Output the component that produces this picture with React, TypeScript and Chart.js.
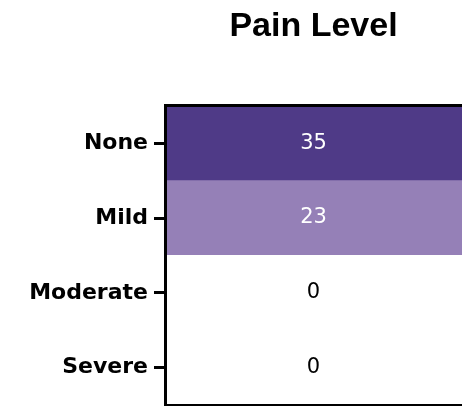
import React, { useEffect, useRef } from "react";
import { Chart, registerables } from "chart.js";

Chart.register(...registerables);

const title = "Pain Level";
const categories = ["None", "Mild", "Moderate", "Severe"];
const values = [35, 23, 0, 0];
const cellColors = ["#4f3a87", "#9580b7", "#ffffff", "#ffffff"];
const textColors = ["#ffffff", "#ffffff", "#000000", "#000000"];

const valueLabels = {
  id: "valueLabels",
  afterDatasetsDraw(chart: any) {
    const ctx = chart.ctx;
    const meta = chart.getDatasetMeta(0);
    ctx.save();
    ctx.font = "21px 'DejaVu Sans'";
    ctx.textAlign = "center";
    ctx.textBaseline = "middle";
    meta.data.forEach((el: any, i: number) => {
      const { x, y, base } = el.getProps(["x", "y", "base"], true);
      ctx.fillStyle = textColors[i];
      ctx.fillText(String(values[i]), (x + base) / 2, y);
    });
    ctx.restore();
  },
};

export default function App() {
  const ref = useRef<HTMLCanvasElement | null>(null);
  useEffect(() => {
    if (!ref.current) return;
    const chart = new Chart(ref.current, {
      type: "bar",
      data: {
        labels: categories,
        datasets: [
          {
            data: categories.map(() => [0, 1]) as any,
            backgroundColor: cellColors,
            borderWidth: 0,
            barPercentage: 1,
            categoryPercentage: 1,
          },
        ],
      },
      options: {
        indexAxis: "y",
        animation: false,
        responsive: false,
        maintainAspectRatio: false,
        devicePixelRatio: 1,
        layout: { padding: { left: 0, right: 0, top: 0, bottom: 1 } },
        plugins: {
          legend: { display: false },
          tooltip: { enabled: false },
          title: {
            display: true,
            text: title,
            fullSize: false,
            color: "#000000",
            font: { family: "'Liberation Sans', Arial", size: 34, weight: "bold" },
            padding: { top: 6, bottom: 59 },
          },
        },
        scales: {
          x: {
            type: "linear",
            position: "top",
            min: 0,
            max: 1,
            grid: { display: false },
            ticks: { display: false },
            border: { display: true, color: "#000000", width: 3, z: 1 },
            afterFit: (s: any) => {
              s.height = 0;
            },
          },
          x2: {
            type: "linear",
            position: "bottom",
            min: 0,
            max: 1,
            grid: { display: false },
            ticks: { display: false },
            border: { display: true, color: "#000000", width: 2, z: 1 },
            afterFit: (s: any) => {
              s.height = 0;
            },
          },
          y: {
            type: "category",
            position: "left",
            offset: true,
            grid: {
              display: true,
              offset: false,
              drawOnChartArea: false,
              drawTicks: true,
              tickLength: 11,
              lineWidth: 3,
              color: "#000000",
            },
            border: { display: true, color: "#000000", width: 3, z: 1 },
            ticks: {
              color: "#000000",
              padding: 6,
              font: { family: "'DejaVu Sans'", size: 22, weight: "bold" },
            },
            afterFit: (s: any) => {
              s.width = 165;
              s.paddingTop = 0;
              s.paddingBottom = 0;
            },
          },
        },
      },
      plugins: [valueLabels],
    });
    return () => chart.destroy();
  }, []);
  return (
    <div style={{ position: "fixed", left: 0, top: 0, width: 462, height: 406, background: "#ffffff" }}>
      <canvas ref={ref} width={462} height={406} style={{ display: "block" }} />
    </div>
  );
}
